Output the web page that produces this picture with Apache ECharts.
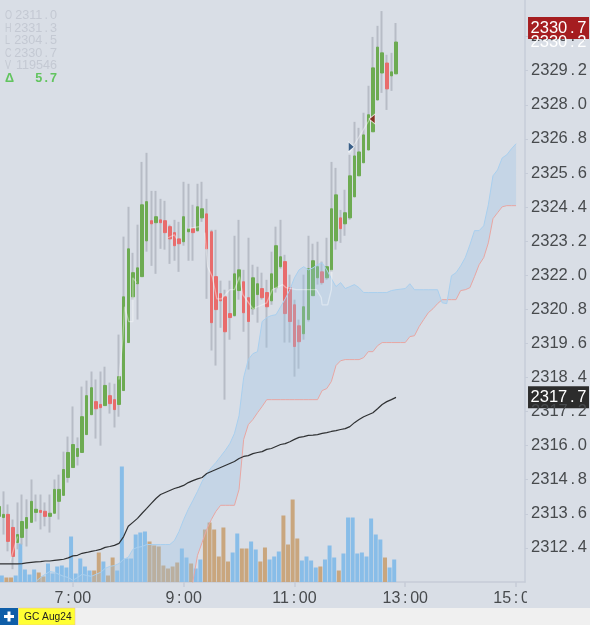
<!DOCTYPE html>
<html>
<head>
<meta charset="utf-8">
<style>html,body{margin:0;padding:0;background:#d9dee6;}#chart{width:590px;height:625px;}</style>
<script src="https://cdn.jsdelivr.net/npm/echarts@6/dist/echarts.min.js"></script>
</head>
<body>
<div id="chart"></div>
<script>
// GC Aug24 five-minute session: candles, volume, VWAP and cloud.
const firstBarMinute = 340;
const barMinutes = 5;

const opens = [2313.51,2313.47,2313.58,2313.12,2312.59,2312.77,2313.09,2313.30,2313.65,2313.72,2313.69,2313.51,2313.62,2314.04,2314.25,2314.88,2315.23,2315.62,2315.76,2316.39,2317.09,2317.55,2317.45,2317.41,2317.76,2317.62,2317.45,2317.94,2319.63,2321.24,2321.70,2321.95,2323.21,2323.92,2323.85,2323.95,2323.92,2323.71,2323.50,2323.28,2323.18,2323.53,2323.64,2323.57,2324.02,2324.16,2323.53,2321.95,2321.35,2321.24,2320.65,2320.58,2321.46,2321.77,2321.21,2320.82,2321.32,2321.53,2321.39,2321.10,2321.56,2322.30,2322.48,2321.56,2320.96,2320.22,2319.94,2320.44,2321.28,2321.91,2322.12,2321.91,2322.19,2323.21,2324.02,2323.81,2324.02,2324.76,2325.50,2325.96,2326.41,2327.05,2328.17,2329.12,2329.47,2329.02,2329.09];
const highs = [2314.28,2314.39,2313.93,2313.40,2314.00,2314.28,2314.11,2314.81,2314.28,2314.28,2314.00,2314.28,2314.81,2314.98,2315.79,2316.32,2317.38,2316.29,2318.08,2318.29,2318.61,2318.33,2318.61,2318.78,2318.22,2318.18,2319.91,2323.36,2324.41,2322.79,2323.78,2325.99,2326.31,2324.97,2324.97,2324.69,2324.62,2323.78,2323.95,2323.88,2325.29,2325.22,2324.48,2325.22,2325.29,2324.69,2323.60,2323.60,2321.81,2321.49,2321.81,2323.39,2323.95,2322.19,2323.32,2322.37,2322.30,2322.09,2321.84,2322.83,2323.71,2323.95,2322.72,2322.02,2321.14,2320.44,2322.02,2323.39,2323.11,2323.18,2322.48,2323.32,2325.99,2325.78,2324.30,2325.01,2326.24,2327.40,2327.19,2327.72,2328.67,2330.39,2330.78,2331.30,2329.76,2329.83,2330.88];
const lows = [2313.05,2312.87,2312.28,2311.65,2312.35,2312.52,2312.45,2313.30,2313.33,2313.05,2313.16,2312.94,2313.62,2313.40,2314.25,2314.70,2315.23,2315.30,2315.76,2316.39,2317.09,2316.25,2316.00,2317.41,2317.13,2316.64,2317.02,2317.94,2319.63,2321.14,2320.44,2321.95,2322.83,2322.33,2322.05,2322.93,2322.90,2322.40,2322.51,2322.12,2323.04,2322.51,2322.51,2323.53,2323.88,2321.17,2319.35,2318.82,2320.15,2317.62,2319.73,2320.54,2321.14,2320.01,2318.68,2320.61,2320.33,2321.14,2319.45,2320.96,2321.39,2322.23,2319.63,2319.63,2318.43,2318.71,2319.73,2320.37,2321.28,2321.67,2321.67,2321.84,2322.12,2322.90,2323.14,2323.39,2323.95,2324.76,2325.50,2325.96,2326.41,2327.05,2328.17,2328.42,2327.82,2328.49,2329.09];
const closes = [2313.86,2313.58,2312.63,2312.10,2312.87,2313.33,2313.47,2314.04,2313.76,2313.65,2313.51,2313.62,2314.46,2314.46,2315.16,2315.76,2316.04,2315.90,2317.02,2317.76,2318.04,2317.30,2317.34,2318.12,2317.48,2317.27,2318.43,2321.24,2322.93,2322.09,2322.26,2324.48,2324.59,2323.81,2324.06,2323.85,2323.50,2323.28,2323.04,2323.11,2324.06,2323.64,2323.50,2324.41,2324.34,2322.93,2320.33,2320.79,2321.10,2320.01,2320.51,2322.05,2322.19,2320.68,2320.37,2321.91,2321.70,2321.21,2320.89,2322.05,2323.04,2322.65,2320.65,2320.37,2319.49,2319.66,2320.89,2322.23,2322.51,2322.30,2321.74,2322.30,2324.34,2324.83,2323.64,2324.20,2325.50,2326.20,2326.34,2326.94,2327.65,2329.30,2330.03,2329.83,2328.56,2329.16,2330.21];

const volumes = [60,65,45,45,65,385,125,75,125,95,55,185,85,155,165,145,455,85,235,155,115,115,295,205,65,245,115,1155,235,235,475,495,505,405,365,355,165,135,155,195,335,245,185,135,225,525,595,525,255,545,205,295,485,335,335,405,325,205,345,225,255,305,665,375,825,435,215,255,215,145,155,225,365,245,115,285,645,645,285,295,255,635,475,425,245,145,225];
const tanVolumeBars = [2,3,9,10,21,22,24,25,33,34,35,36,37,38,39,42,45,46,47,48,49,50,53,54,57,58,62,63,64,65,70,74,84];

const vwap = [2311.84,2311.84,2311.84,2311.84,2311.84,2311.85,2311.87,2311.89,2311.91,2311.92,2311.94,2311.94,2311.96,2311.98,2312.00,2312.05,2312.12,2312.14,2312.21,2312.24,2312.28,2312.31,2312.35,2312.42,2312.45,2312.49,2312.56,2312.80,2313.16,2313.30,2313.44,2313.62,2313.79,2313.97,2314.14,2314.28,2314.35,2314.42,2314.49,2314.54,2314.60,2314.70,2314.77,2314.83,2314.88,2315.02,2315.09,2315.16,2315.23,2315.30,2315.37,2315.44,2315.55,2315.62,2315.65,2315.72,2315.76,2315.79,2315.87,2315.90,2315.97,2316.04,2316.07,2316.14,2316.22,2316.29,2316.32,2316.36,2316.37,2316.39,2316.43,2316.46,2316.50,2316.53,2316.57,2316.60,2316.67,2316.81,2316.92,2317.02,2317.09,2317.16,2317.30,2317.45,2317.55,2317.62,2317.70];

// Cloud spans start at bar 8 and run past the last candle to bar 112.
const cloudFirstBar = 8;
const cloudUpper = [2311.22,2311.36,2311.47,2311.57,2311.54,2311.47,2311.40,2311.36,2311.26,2311.36,2311.47,2311.43,2311.40,2311.47,2311.54,2311.68,2311.75,2311.78,2311.85,2312.00,2312.07,2312.35,2312.42,2312.45,2312.52,2312.52,2312.52,2312.52,2312.52,2312.52,2312.66,2312.98,2313.40,2313.76,2314.07,2314.39,2314.74,2315.02,2315.23,2315.41,2315.62,2315.83,2316.07,2316.43,2317.06,2318.40,2319.03,2319.24,2319.31,2320.37,2320.51,2320.58,2320.61,2320.89,2321.17,2321.49,2321.91,2322.19,2322.30,2322.19,2322.26,2322.37,2322.44,2322.19,2321.88,2321.60,2321.74,2321.53,2321.60,2321.67,2321.56,2321.39,2321.39,2321.39,2321.39,2321.39,2321.39,2321.46,2321.49,2321.51,2321.53,2321.70,2321.49,2321.49,2321.49,2321.49,2321.49,2321.49,2321.03,2321.00,2321.98,2322.09,2322.33,2322.62,2323.07,2323.57,2323.57,2323.74,2324.48,2325.50,2325.71,2326.13,2326.24,2326.45,2326.63];
const cloudLower = [2310.40,2310.40,2310.40,2310.40,2310.40,2310.40,2310.40,2310.40,2310.40,2310.40,2310.40,2310.40,2310.40,2310.40,2310.40,2310.40,2310.40,2310.40,2310.40,2310.40,2310.40,2310.40,2310.40,2310.40,2310.40,2310.40,2310.40,2310.40,2310.40,2310.40,2310.40,2310.40,2310.40,2310.60,2311.22,2312.14,2312.59,2313.05,2313.40,2313.69,2313.90,2313.90,2313.90,2313.90,2314.46,2316.22,2316.74,2316.92,2317.16,2317.38,2317.62,2317.62,2317.62,2317.62,2317.62,2317.62,2317.62,2317.62,2317.62,2317.62,2317.62,2317.62,2317.94,2318.01,2318.26,2318.82,2318.99,2319.03,2319.03,2319.03,2319.03,2319.10,2319.31,2319.31,2319.52,2319.63,2319.63,2319.63,2319.63,2319.63,2319.63,2319.84,2319.87,2320.19,2320.44,2320.68,2320.82,2321.00,2321.14,2321.14,2321.14,2321.14,2321.46,2321.49,2321.56,2321.95,2322.37,2322.62,2323.14,2323.99,2324.20,2324.41,2324.45,2324.45,2324.45];

// Pale trade path as [minute, price]; a null price breaks the line.
const tradePath = [[352,2311.92],[360,2312.80],[362,null],
  [470,2318.33],[474,2319.73],[476,2320.89],[480.5,2320.37],[485,2320.37],[485,2321.91],[489,2321.74],[491,null],
  [523,2323.32],[530,2323.42],[532.5,2323.28],[534,null],
  [544,2323.64],[557,2323.71],[560,null],
  [563,2323.50],[566,2322.30],[571,2321.95],[576,2321.17],[581,2321.17],[590,2321.49],[595,2321.49],[600.5,2321.95],[604,2321.32],[615,2320.82],[630,2321.03],[636,2321.49],[647,2321.67],[651,2321.56],[662,2321.49],[684,2321.49],[689,2321.21],[690,2320.96],[696,2320.96],[700,2321.49],[700.5,2322.19],[702,null],
  [719.5,2326.31],[743,2327.57]];
const buyMarker = [721.6,2326.52];
const sellMarker = [744,2327.50];

const lastPrice = 2330.7;
const lastVwap = 2317.7;
const timeTicks = [420,540,660,780,900];
const priceTicks = [2312.4,2313.6,2314.8,2316.0,2317.2,2318.4,2319.6,2320.8,2322.0,2323.2,2324.4,2325.6,2326.8,2328.0,2329.2,2330.4];
const sessionLabels = ['O','H','L','C','V'];
const sessionValues = ['2311.0','2331.3','2304.5','2330.7','119546'];
const sessionChange = '5.7';
const contractName = 'GC Aug24';

const AXIS_MIN = 2311.2, AXIS_MAX = 2331.69;
const X_MIN = 341.08, X_MAX = 909.73;
const BG = '#d9dee6', AXIS = '#c6ccd8', TEXT = '#474a4d';
const UI_FONT = '"Liberation Sans", Arial, sans-serif';
const HAIR = '\u200a';
const spaced = s => s.replace('.', HAIR + HAIR + '.' + HAIR + HAIR).replace(':', HAIR + HAIR + ':' + HAIR + HAIR);

const minuteOf = i => firstBarMinute + i * barMinutes;
const candleSource = opens.map((o, i) => [minuteOf(i), o, closes[i], lows[i], highs[i]]);
const bodySource = opens.map((o, i) => [minuteOf(i), o, closes[i], Math.min(o, closes[i]), Math.max(o, closes[i])]);
const volumeSource = volumes.map((v, i) => ({
  value: [minuteOf(i), v],
  itemStyle: {color: tanVolumeBars.includes(i) ? '#c9a67e' : '#88bde8'}
}));
const lowerSource = cloudLower.map((v, i) => [minuteOf(cloudFirstBar + i), v]);
const upperSource = cloudUpper.map((v, i) => [minuteOf(cloudFirstBar + i), v]);
const bandSource = cloudUpper.map((v, i) => [minuteOf(cloudFirstBar + i), v, cloudLower[i]]);
const vwapSource = vwap.map((v, i) => [minuteOf(i), v]);

// The filled cloud is one polygon, drawn on the first item and clipped to the plot.
function renderCloud(params, api) {
  if (params.dataIndex !== 0) return null;
  const top = bandSource.map(d => api.coord([d[0], d[1]]));
  const bottom = bandSource.map(d => api.coord([d[0], d[2]])).reverse();
  const cs = params.coordSys;
  const points = echarts.graphic.clipPointsByRect(top.concat(bottom), {x: cs.x, y: cs.y, width: cs.width, height: cs.height});
  return {type: 'polygon', shape: {points}, style: {fill: 'rgba(155,195,230,0.32)'}};
}

const chart = echarts.init(document.getElementById('chart'), null, {renderer: 'canvas'});

const sessionText = [];
sessionLabels.forEach((label, i) => {
  const y = 15.6 + i * 12.6;
  sessionText.push({type: 'text', x: 5, y, scaleX: 0.72, z: 20, style: {text: label, fill: '#c4c9d3', font: '12.6px ' + UI_FONT, verticalAlign: 'middle'}});
  sessionText.push({type: 'text', x: 57, y, z: 20, style: {text: spaced(sessionValues[i]), fill: '#c4c9d3', font: '12.6px ' + UI_FONT, verticalAlign: 'middle', align: 'right'}});
});
sessionText.push({type: 'text', x: 5, y: 78.5, z: 20, style: {text: '\u0394', fill: '#62c45f', font: 'bold 12.6px ' + UI_FONT, verticalAlign: 'middle'}});
sessionText.push({type: 'text', x: 57, y: 78.5, z: 20, style: {text: spaced(sessionChange), fill: '#62c45f', font: 'bold 12.6px ' + UI_FONT, verticalAlign: 'middle', align: 'right'}});

const tag = (value, fill) => ({
  coord: [X_MAX, value], symbol: 'rect', symbolSize: [61, 22], symbolOffset: [33.5, 0],
  itemStyle: {color: fill},
  label: {show: true, position: 'inside', color: '#ffffff', fontSize: 16.5, fontFamily: UI_FONT, formatter: () => spaced(value.toFixed(1))}
});

chart.setOption({
  animation: false,
  backgroundColor: BG,
  grid: {left: 0, top: 0, width: 526, height: 582},
  xAxis: [
    {
      type: 'value', min: X_MIN, max: X_MAX, z: 1,
      splitLine: {show: false},
      axisLine: {show: true, lineStyle: {color: AXIS, width: 1.5}},
      axisTick: {show: true, length: 5, lineStyle: {color: AXIS, width: 1.5}, customValues: timeTicks},
      axisLabel: {
        color: TEXT, fontSize: 16, fontFamily: UI_FONT, margin: 9, customValues: timeTicks,
        hideOverlap: false,
        formatter: m => spaced(Math.floor(m / 60) + ':' + String(m % 60).padStart(2, '0'))
      }
    },
    // Volume bars sit slightly left of their candles.
    {type: 'value', min: X_MIN + 1.95, max: X_MAX + 1.95, show: false, position: 'top', splitLine: {show: false}}
  ],
  yAxis: [
    {
      type: 'value', position: 'right', min: AXIS_MIN, max: AXIS_MAX, z: 5,
      splitLine: {show: false},
      axisLine: {show: true, lineStyle: {color: AXIS, width: 1.5}},
      axisTick: {show: true, length: 3, lineStyle: {color: AXIS}, customValues: priceTicks},
      axisLabel: {
        color: TEXT, fontSize: 16.5, fontFamily: UI_FONT, margin: 6, align: 'left', customValues: priceTicks,
        padding: [3, 0, 0, 0],
        formatter: v => spaced(v.toFixed(1))
      }
    },
    {type: 'value', min: 0, max: 5820, show: false, splitLine: {show: false}}
  ],
  series: [
    {
      name: 'Volume', type: 'bar', xAxisIndex: 1, yAxisIndex: 1, barWidth: 4, z: 1,
      data: volumeSource, silent: true
    },
    {
      name: 'Wicks', type: 'candlestick', barWidth: 1, z: 2, silent: true,
      itemStyle: {color: '#b7bcc6', color0: '#b7bcc6', borderColor: '#b7bcc6', borderColor0: '#b7bcc6', borderWidth: 2},
      encode: {x: 0, y: [1, 2, 3, 4]},
      data: candleSource
    },
    {
      name: 'GC Aug24', type: 'candlestick', barWidth: 3, z: 3, silent: true,
      itemStyle: {color: '#6dab52', color0: '#e86c6c', borderColor: '#6dab52', borderColor0: '#e86c6c', borderWidth: 1},
      encode: {x: 0, y: [1, 2, 3, 4]},
      data: bodySource,
      markPoint: {
        silent: true, animation: false, z: 12,
        data: [
          {
            coord: [X_MAX, closes[closes.length - 1]], symbol: 'rect', symbolSize: [0, 0], symbolOffset: [33.5, 0],
            label: {show: true, position: 'inside', color: '#ffffff', fontSize: 16.5, fontFamily: UI_FONT, formatter: () => spaced(closes[closes.length - 1].toFixed(1))}
          },
          tag(lastPrice, '#a51d20')
        ]
      }
    },
    {
      name: 'Cloud', type: 'custom', z: 4, silent: true, renderItem: renderCloud,
      encode: {x: 0, y: [1, 2]}, data: bandSource
    },
    {
      name: 'Cloud lower', type: 'line', z: 5, silent: true, showSymbol: false,
      lineStyle: {color: '#e8a6a2', width: 1}, data: lowerSource
    },
    {
      name: 'Cloud upper', type: 'line', z: 5, silent: true, showSymbol: false,
      lineStyle: {color: '#a9cfee', width: 1}, data: upperSource
    },
    {
      name: 'VWAP', type: 'line', z: 6, silent: true, showSymbol: false,
      lineStyle: {color: '#2f3133', width: 1.2}, data: vwapSource,
      markPoint: {silent: true, animation: false, data: [tag(lastVwap, '#2c2c2c')]}
    },
    {
      name: 'Trades', type: 'line', z: 7, silent: true, showSymbol: false, connectNulls: false,
      lineStyle: {color: 'rgba(255,255,255,0.4)', width: 1.3}, data: tradePath
    },
    {
      name: 'Entry', type: 'scatter', z: 8, silent: true, symbol: 'triangle', symbolSize: [10, 6], symbolRotate: -90,
      itemStyle: {color: '#123f70', borderColor: '#ffffff', borderWidth: 0.8}, data: [buyMarker]
    },
    {
      name: 'Exit', type: 'scatter', z: 8, silent: true, symbol: 'triangle', symbolSize: [10, 6], symbolRotate: 90,
      itemStyle: {color: '#8a1418', borderColor: '#ffffff', borderWidth: 0.8}, data: [sellMarker]
    }
  ],
  graphic: [
    // Clears the part of the last time label that runs past the price axis.
    {type: 'rect', x: 527, y: 584, z: 3, shape: {width: 63, height: 24}, style: {fill: BG}},
    {type: 'rect', x: 0, y: 608, z: 30, shape: {width: 590, height: 17}, style: {fill: '#f0f0f0'}},
    {type: 'rect', x: 0, y: 608, z: 31, shape: {width: 18, height: 17}, style: {fill: '#0f5ea8'}},
    {type: 'rect', x: 4, y: 615, z: 32, shape: {width: 10, height: 3}, style: {fill: '#ffffff'}},
    {type: 'rect', x: 7.5, y: 611.5, z: 32, shape: {width: 3, height: 10}, style: {fill: '#ffffff'}},
    {type: 'rect', x: 18.5, y: 608, z: 31, shape: {width: 56.5, height: 17}, style: {fill: '#ffff33', stroke: '#e8b8a0', lineWidth: 0.5}},
    {type: 'text', x: 24, y: 617, z: 32, style: {text: contractName, fill: '#222222', font: '10.2px ' + UI_FONT, verticalAlign: 'middle'}},
    ...sessionText
  ]
});
</script>
</body>
</html>
